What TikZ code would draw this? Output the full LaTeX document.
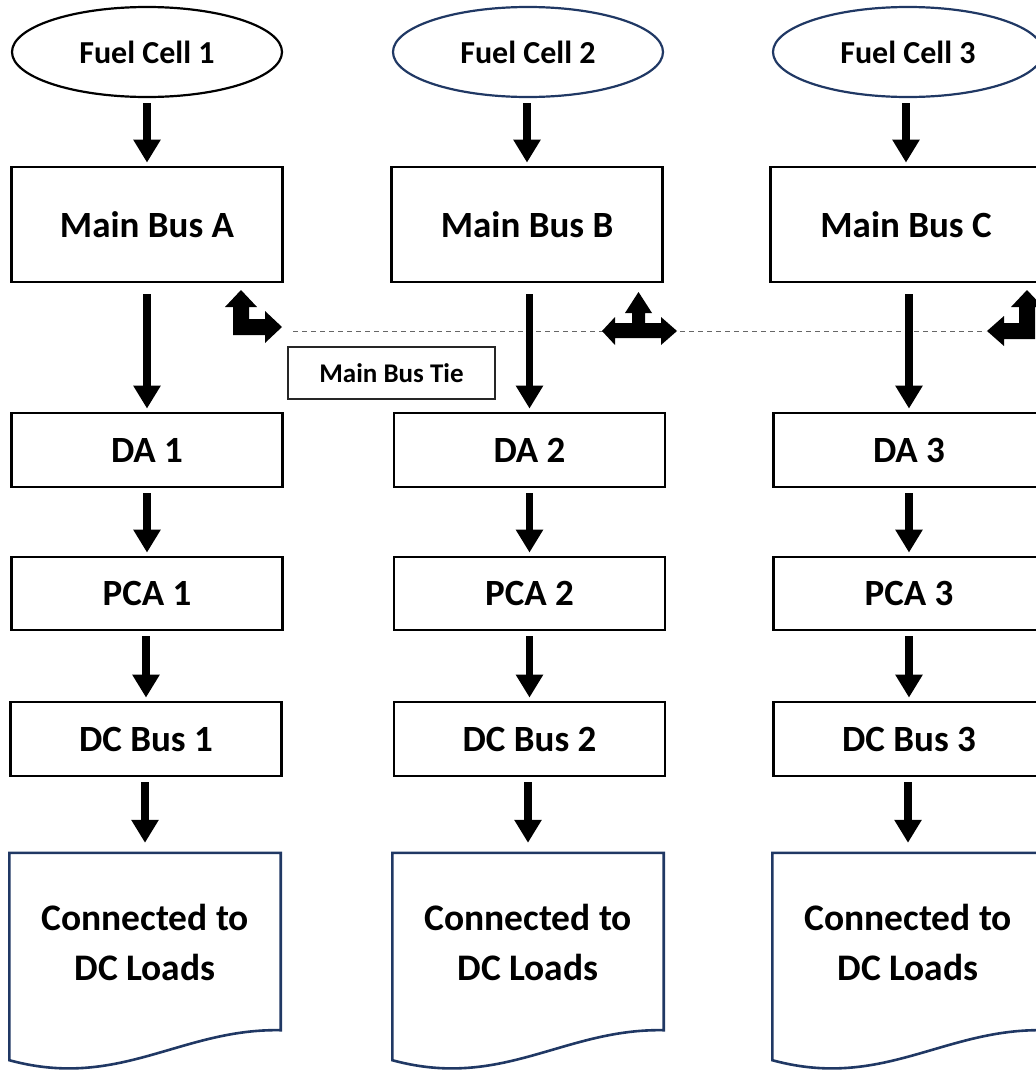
\documentclass[tikz,border=0pt]{standalone}
\usepackage{fontspec}
\setmainfont{Carlito}
\usetikzlibrary{arrows.meta,shapes.geometric}
\definecolor{navy}{RGB}{32,56,100}
\begin{document}
\begin{tikzpicture}[x=1pt,y=-1pt,
  box/.style={draw=black,line width=2.8pt,minimum width=271pt,inner sep=0pt,font=\bfseries\fontsize{37}{40}\selectfont},
  fcell/.style={ellipse,line width=2.2pt,minimum width=270pt,minimum height=90pt,inner sep=0pt,font=\bfseries\fontsize{32}{36}\selectfont},
  docbox/.style={minimum width=271pt,minimum height=207pt,inner sep=0pt},
  doctext/.style={align=center,font=\bfseries\fontsize{37.5}{50}\selectfont},
  docline/.style={draw=navy,line width=2.6pt},
  arr/.style={line width=7.5pt,-{Triangle[width=26pt,length=23pt]},shorten <=5pt,shorten >=3pt},
  tiebox/.style={draw=black!85,line width=1.3pt,minimum width=207pt,minimum height=52pt,inner sep=0pt,font=\bfseries\fontsize{27}{30}\selectfont},
  tieline/.style={draw=black!60,line width=1pt,dash pattern=on 5pt off 4pt},
  bent/.style={fill=black}
]
\useasboundingbox (0,0) rectangle (1036,1074);
\clip (0,0) rectangle (1036,1074);

% dashed tie line (under everything)
\coordinate (dashL) at (293,331);
\coordinate (dashR) at (986,331);
\draw[tieline] (dashL) -- (dashR);

% column 1
\node[fcell,draw=black] (fc1) at (147,52) {Fuel Cell 1};
\node[box,minimum height=115pt] (mb1) at (147,224.5) {Main Bus A};
\node[box,minimum height=74pt] (da1) at (147,450) {DA 1};
\node[box,minimum height=73pt] (pca1) at (147,593.5) {PCA 1};
\node[box,minimum height=74pt] (dc1) at (146,739) {DC Bus 1};
\node[docbox] (cn1) at (145,956.5) {};
\node[doctext] (cn1t) at (145,942) {Connected to\\DC Loads};

% column 2
\node[fcell,draw=navy] (fc2) at (528,52) {Fuel Cell 2};
\node[box,minimum height=115pt] (mb2) at (527,224.5) {Main Bus B};
\node[box,minimum height=74pt] (da2) at (529.5,450) {DA 2};
\node[box,minimum height=73pt] (pca2) at (529.5,593.5) {PCA 2};
\node[box,minimum height=74pt] (dc2) at (529.5,739) {DC Bus 2};
\node[docbox] (cn2) at (528,956.5) {};
\node[doctext] (cn2t) at (528,942) {Connected to\\DC Loads};

% column 3
\node[fcell,draw=navy] (fc3) at (908,52) {Fuel Cell 3};
\node[box,minimum height=115pt] (mb3) at (906,224.5) {Main Bus C};
\node[box,minimum height=74pt] (da3) at (909,450) {DA 3};
\node[box,minimum height=73pt] (pca3) at (909,593.5) {PCA 3};
\node[box,minimum height=74pt] (dc3) at (909,739) {DC Bus 3};
\node[docbox] (cn3) at (908,956.5) {};
\node[doctext] (cn3t) at (908,942) {Connected to\\DC Loads};

% document outlines
\foreach \c in {cn1,cn2,cn3}{
  \draw[docline] (\c.north west) -- (\c.north east) -- ([yshift=30pt]\c.south east)
    .. controls +(-100,-2) and +(110,30) .. (\c.south west) -- cycle;
}

% tie box
\node[tiebox] (tie) at (391.5,373) {Main Bus Tie};

% vertical arrows
\foreach \a/\b in {fc1/mb1,fc2/mb2,fc3/mb3,da1/pca1,da2/pca2,da3/pca3,pca1/dc1,pca2/dc2,pca3/dc3}{
  \draw[arr] (\a.south -| \b.north) -- (\b.north);
}
\draw[arr,shorten <=11pt] (mb1.south) -- (da1.north -| mb1.south);
\draw[arr,shorten <=11pt] (mb2.south -| da2.north) -- (da2.north);
\draw[arr,shorten <=11pt] (mb3.south -| da3.north) -- (da3.north);
\foreach \a/\b in {dc1/cn1,dc2/cn2,dc3/cn3}{
  \draw[arr,shorten >=10pt] (\a.south -| \b.north) -- (\b.north);
}

% bent arrows of the bus tie
\fill[bent] (241,290) -- (257,307) -- (249,307) -- (249,319) -- (265,319) -- (265,311)
  -- (282,327) -- (265,343) -- (265,335) -- (233,335) -- (233,307) -- (225,307) -- cycle;
\fill[bent] (638.5,292) -- (652,313) -- (645,313) -- (645,323) -- (661,323) -- (661,317)
  -- (677,331) -- (661,345) -- (661,338) -- (615,338) -- (615,345) -- (602,331)
  -- (615,317) -- (615,323) -- (632,323) -- (632,313) -- (625,313) -- cycle;
\fill[bent] (1027,290) -- (1043,307) -- (1035,307) -- (1035,339) -- (1004,339) -- (1004,346)
  -- (987,331) -- (1004,316) -- (1004,323) -- (1019,323) -- (1019,307) -- (1011,307) -- cycle;
\end{tikzpicture}
\end{document}
